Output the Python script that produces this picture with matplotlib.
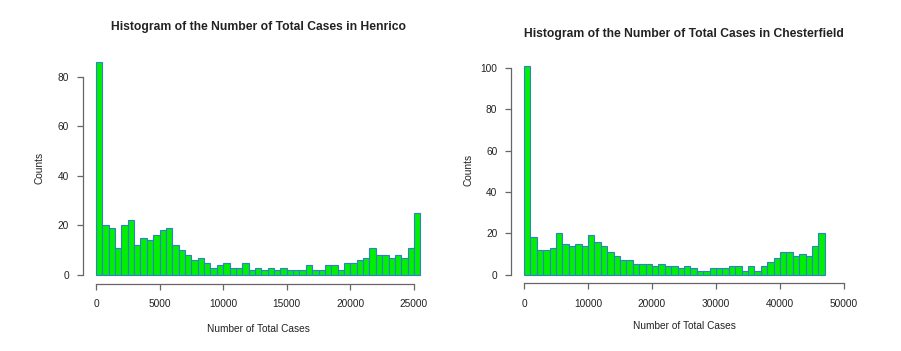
import matplotlib
matplotlib.use("Agg")
import matplotlib.pyplot as plt
import numpy as np

plt.rcParams["font.family"] = ["Liberation Sans", "DejaVu Sans"]

# counts per bin
HENRICO_BIN = 500
HENRICO_COUNTS = [
    86, 20, 19, 11, 20, 22, 12, 15, 14, 16, 18, 19, 12, 10, 8, 6, 7, 5, 3, 4,
    5, 3, 3, 5, 2, 3, 2, 3, 2, 3, 2, 2, 2, 4, 2, 2, 4, 4, 2, 5,
    5, 6, 7, 11, 8, 8, 7, 8, 7, 11, 25,
]
HENRICO_XTICKS = [0, 5000, 10000, 15000, 20000, 25000]
HENRICO_YTICKS = [0, 20, 40, 60, 80]

CHESTER_BIN = 1000
CHESTER_COUNTS = [
    101, 18, 12, 12, 13, 20, 15, 14, 15, 14, 19, 16, 14, 11, 9, 7, 7, 5, 5, 5,
    4, 5, 4, 4, 3, 4, 3, 2, 2, 3, 3, 3, 4, 4, 2, 4, 2, 4, 6, 8,
    11, 11, 9, 10, 9, 14, 20,
]
CHESTER_XTICKS = [0, 10000, 20000, 30000, 40000, 50000]
CHESTER_YTICKS = [0, 20, 40, 60, 80, 100]

FILL = "#00f000"
EDGE = "#2f7fd8"
AXIS_COLOR = "#666666"
TEXT_COLOR = "#222222"


def draw_hist(ax, counts, binw, xlim, xticks, yticks, title, title_y, xlab_y):
    counts = np.asarray(counts)
    lefts = np.arange(len(counts)) * binw
    ax.bar(lefts, counts, width=binw, align="edge", color=FILL,
           edgecolor=EDGE, linewidth=0.8)

    # R-style 4% padding around the data range
    xpad = (xlim[1] - xlim[0]) * 0.04
    ypad = counts.max() * 0.04
    ax.set_xlim(xlim[0] - xpad, xlim[1] + xpad)
    ax.set_ylim(-ypad, counts.max() + ypad)

    for side in ["top", "right"]:
        ax.spines[side].set_visible(False)
    for side in ["left", "bottom"]:
        ax.spines[side].set_color(AXIS_COLOR)
        ax.spines[side].set_linewidth(0.9)
    ax.spines["left"].set_bounds(yticks[0], yticks[-1])
    ax.spines["bottom"].set_bounds(xticks[0], xticks[-1])

    ax.set_xticks(xticks)
    ax.set_yticks(yticks)
    ax.tick_params(length=4.5, width=0.9, color=AXIS_COLOR, labelsize=7.3,
                   labelcolor=TEXT_COLOR)
    ax.tick_params(axis="y", pad=5.5)
    ax.tick_params(axis="x", pad=7)

    ax.text(0.5, title_y, title, transform=ax.transAxes, ha="center",
            va="center", fontsize=8.7, fontweight="bold", color=TEXT_COLOR)
    ax.text(0.5, xlab_y, "Number of Total Cases", transform=ax.transAxes,
            ha="center", va="center", fontsize=7.3, color=TEXT_COLOR)
    ax.set_ylabel("Counts", fontsize=7.3, color=TEXT_COLOR)
    ax.yaxis.set_label_coords(-0.11, 0.5)


fig = plt.figure(figsize=(9.01, 3.51), dpi=100)
ax1 = fig.add_axes([83 / 901, (351 - 283.5) / 351, 350.3 / 901, 230.2 / 351])
ax2 = fig.add_axes([511.2 / 901, (351 - 283.05) / 351, 345.6 / 901, 225.55 / 351])

draw_hist(ax1, HENRICO_COUNTS, HENRICO_BIN, (0, len(HENRICO_COUNTS) * HENRICO_BIN),
          HENRICO_XTICKS, HENRICO_YTICKS,
          "Histogram of the Number of Total Cases in Henrico", 1.114, -0.198)
draw_hist(ax2, CHESTER_COUNTS, CHESTER_BIN, (0, 50000),
          CHESTER_XTICKS, CHESTER_YTICKS,
          "Histogram of the Number of Total Cases in Chesterfield", 1.104, -0.190)

fig.savefig("out.png", dpi=100)
